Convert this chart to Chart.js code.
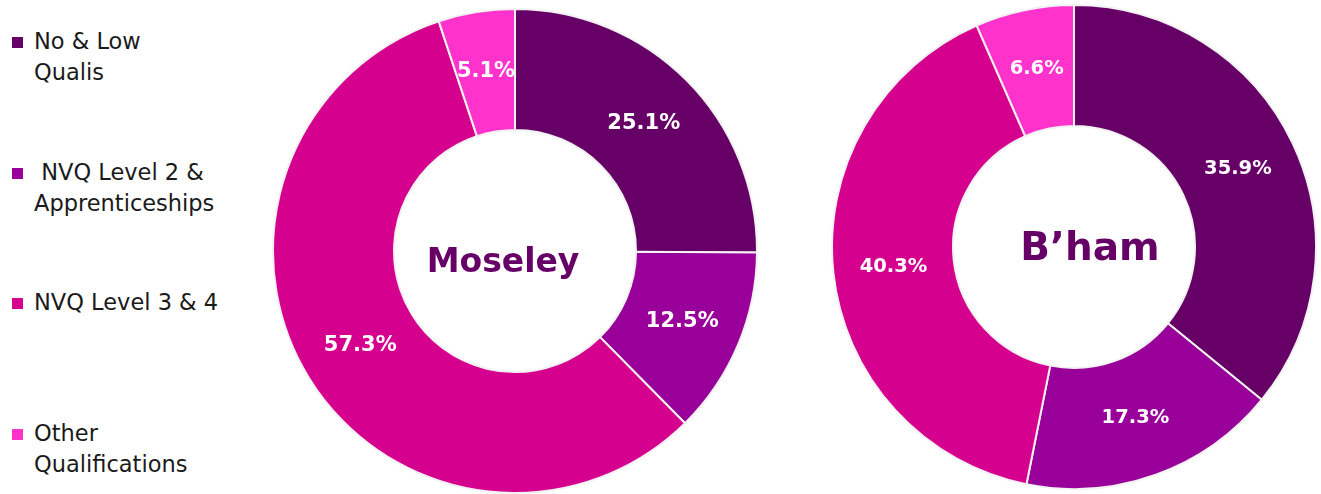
<!DOCTYPE html>
<html>
<head>
<meta charset="utf-8">
<script src="https://cdn.jsdelivr.net/npm/chart.js@4"></script>
<style>
  body { margin: 0; background: #fff; width: 1321px; height: 494px; overflow: hidden; position: relative; }
  #legend { position: absolute; left: 12px; top: 0; font-family: "DejaVu Sans", Verdana, sans-serif; font-size: 22.5px; color: #1a1a1a; line-height: 31px; }
  .item { position: absolute; left: 0; width: 240px; }
  .box { position: absolute; left: 0; top: 11px; width: 11px; height: 11px; }
  .txt { position: absolute; left: 22px; top: 0; white-space: nowrap; }
  .wrap { position: absolute; }
</style>
</head>
<body>
<div id="legend"></div>
<div class="wrap" style="left:272px;top:8px;width:486px;height:486px"><canvas id="c1"></canvas></div>
<div class="wrap" style="left:831px;top:4px;width:486px;height:486px"><canvas id="c2"></canvas></div>
<script>
var categories = ["No & Low\nQualis", " NVQ Level 2 &\nApprenticeships", "NVQ Level 3 & 4", "Other\nQualifications"];
var moseley = [25.1, 12.5, 57.3, 5.1];
var bham = [35.9, 17.3, 40.3, 6.6];
var colours = ["#660066", "#990099", "#D6008F", "#FF33CC"];

// legend on the left
var legendTops = [26, 157, 287, 418];
var lg = document.getElementById('legend');
for (var i = 0; i < categories.length; i++) {
  var it = document.createElement('div');
  it.className = 'item';
  it.style.top = legendTops[i] + 'px';
  it.innerHTML = '<div class="box" style="background:' + colours[i] + '"></div><div class="txt">' +
    categories[i].replace(/&/g, '&amp;').replace(/\n/g, '<br>').replace(/^ /, '&nbsp;') + '</div>';
  lg.appendChild(it);
}

// white % labels + centre title
var labelPlugin = {
  id: 'labels',
  afterDatasetsDraw: function(chart, args, opts) {
    var ctx = chart.ctx;
    var meta = chart.getDatasetMeta(0);
    ctx.save();
    ctx.textAlign = 'center';
    ctx.textBaseline = 'middle';
    ctx.fillStyle = '#ffffff';
    ctx.font = 'bold ' + opts.size + 'px "DejaVu Sans", Verdana, sans-serif';
    meta.data.forEach(function(arc, i) {
      var p = arc.tooltipPosition();
      ctx.fillText(chart.data.datasets[0].data[i].toFixed(1) + '%', p.x, p.y);
    });
    var a = meta.data[0];
    ctx.fillStyle = '#660066';
    ctx.font = 'bold ' + opts.titleSize + 'px "DejaVu Sans", Verdana, sans-serif';
    ctx.fillText(opts.title, a.x + opts.dx, a.y + opts.dy);
    ctx.restore();
  }
};

function makeChart(id, values, title, size, titleSize, dx, dy) {
  return new Chart(document.getElementById(id), {
    type: 'doughnut',
    data: {
      labels: categories,
      datasets: [{
        data: values,
        backgroundColor: colours,
        borderColor: '#f2f2f2',
        borderWidth: 2
      }]
    },
    options: {
      responsive: true,
      maintainAspectRatio: false,
      animation: false,
      cutout: '50%',
      layout: { padding: 0 },
      plugins: {
        legend: { display: false },
        tooltip: { enabled: false },
        labels: { size: size, titleSize: titleSize, title: title, dx: dx, dy: dy }
      }
    },
    plugins: [labelPlugin]
  });
}

makeChart('c1', moseley, 'Moseley', 21, 33, -12, 12);
makeChart('c2', bham, 'B\u2019ham', 19.5, 39, 16, 3);
</script>
</body>
</html>
